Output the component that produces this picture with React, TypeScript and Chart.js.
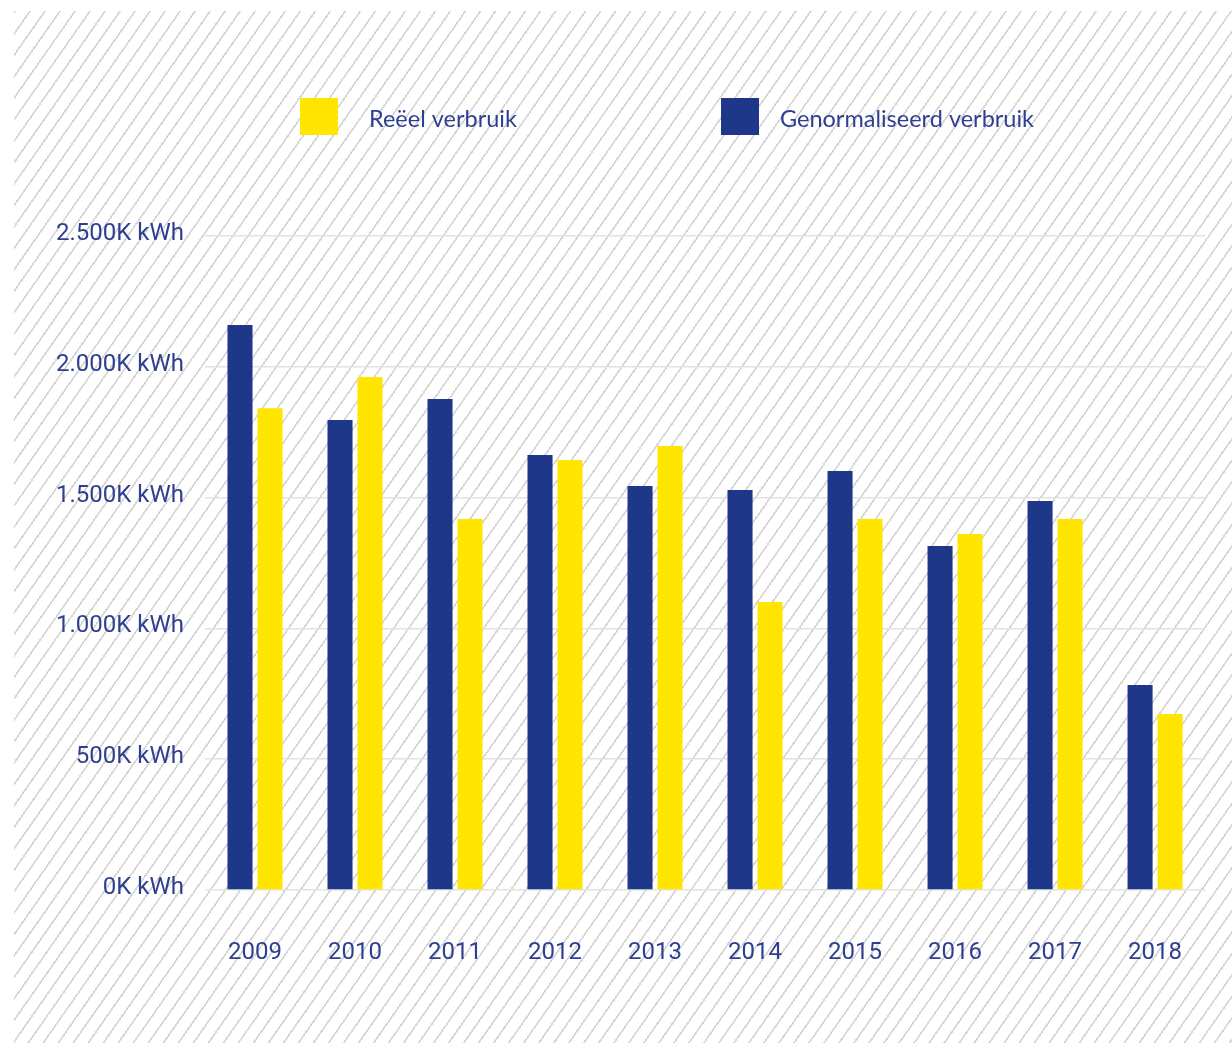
import React, { useEffect, useRef } from "react";
import { Chart, registerables } from "chart.js";

Chart.register(...registerables);

const years = ["2009", "2010", "2011", "2012", "2013", "2014", "2015", "2016", "2017", "2018"];
const genormaliseerd = [2160, 1797, 1877, 1663, 1544, 1529, 1602, 1315, 1487, 784];
const reeel = [1842, 1961, 1418, 1644, 1697, 1101, 1418, 1361, 1418, 673];
const seriesNames = ["Genormaliseerd verbruik", "Reëel verbruik"];
const yTicks = [0, 500, 1000, 1500, 2000, 2500];

const BLUE = "#1f3788";
const YELLOW = "#ffe500";
const TEXT = "#2e3f92";

const fmt = (v: number) =>
  String(v).replace(/\B(?=(\d{3})+(?!\d))/g, ".") + "K kWh";

// legend drawn on canvas, reeel first then genormaliseerd
const legendPlugin = {
  id: "customLegend",
  afterDraw(chart: any) {
    const ctx = chart.ctx;
    const items = [
      { ds: 1, boxX: 300, textX: 369 },
      { ds: 0, boxX: 721, textX: 780 },
    ];
    ctx.save();
    items.forEach((it) => {
      const ds = chart.data.datasets[it.ds];
      ctx.fillStyle = ds.backgroundColor;
      ctx.fillRect(it.boxX, 98, 38, 37);
      ctx.fillStyle = TEXT;
      ctx.font = "23.5px Lato";
      ctx.textBaseline = "middle";
      ctx.textAlign = "left";
      ctx.fillText(ds.label, it.textX, 119);
    });
    ctx.restore();
  },
};

export default function App() {
  const ref = useRef<HTMLCanvasElement>(null);
  useEffect(() => {
    if (!ref.current) return;
    const chart = new Chart(ref.current, {
      type: "bar",
      data: {
        labels: years,
        datasets: [
          { label: seriesNames[0], data: genormaliseerd, backgroundColor: BLUE },
          { label: seriesNames[1], data: reeel, backgroundColor: YELLOW },
        ],
      },
      options: {
        animation: false,
        responsive: false,
        devicePixelRatio: 1,
        layout: { padding: { top: 236, right: 19, left: 0, bottom: 0 } },
        datasets: { bar: { categoryPercentage: 0.6, barPercentage: 0.835 } } as any,
        plugins: { legend: { display: false }, tooltip: { enabled: false } },
        scales: {
          x: {
            grid: { display: false, drawTicks: false },
            border: { display: false },
            ticks: { color: TEXT, font: { family: "Roboto", size: 24 }, padding: 49 },
            afterFit: (s: any) => { s.height = 153; },
          },
          y: {
            min: 0,
            max: 2500,
            afterBuildTicks: (s: any) => { s.ticks = yTicks.map((v) => ({ value: v })); },
            grid: { color: "#e2e2e2", lineWidth: 1.5, drawTicks: false },
            border: { display: false },
            ticks: {
              color: TEXT,
              font: { family: "Roboto", size: 24 },
              padding: 21,
              labelOffset: -2,
              callback: (v: any) => fmt(Number(v)),
            },
            afterFit: (s: any) => { s.width = 205; },
          },
        },
      },
      plugins: [legendPlugin],
    });
    return () => chart.destroy();
  }, []);

  return (
    <div style={{ position: "absolute", left: 0, top: 0, width: 1232, height: 1043, background: "#fff", overflow: "hidden" }}>
      <div
        style={{
          position: "absolute",
          left: 14,
          top: 11,
          right: 0,
          bottom: 0,
          backgroundImage:
            "repeating-linear-gradient(125deg, #d6d6d6 0px, #d6d6d6 1.7px, transparent 1.7px, transparent 12.3px)",
        }}
      />
      <canvas ref={ref} width={1232} height={1043} style={{ position: "absolute", left: 0, top: 0, width: 1232, height: 1043 }} />
    </div>
  );
}
